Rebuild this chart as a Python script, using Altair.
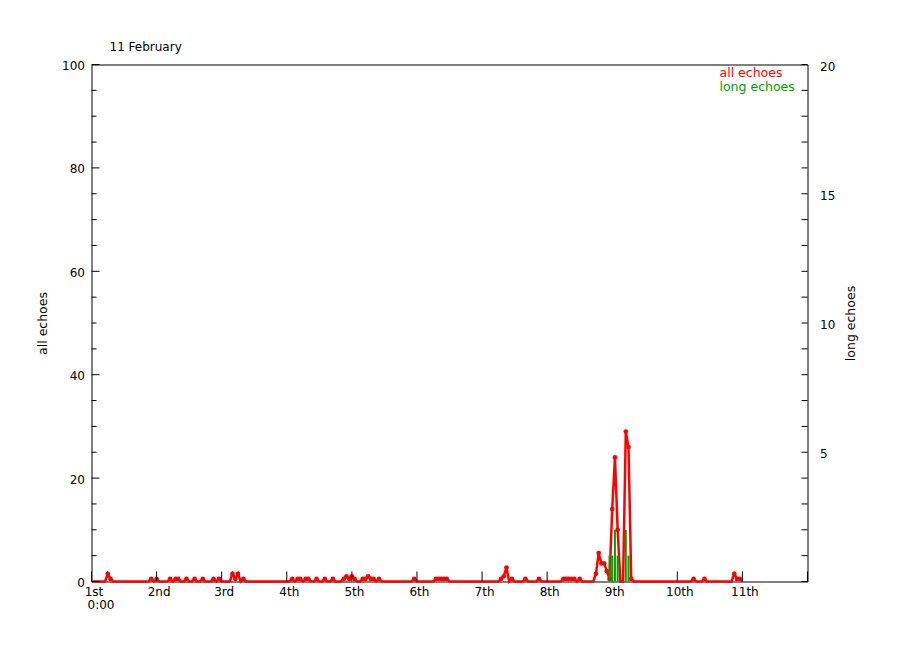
import altair as alt
import pandas as pd

# ---------------- data ----------------
DAY_LABELS = ["1st", "2nd", "3rd", "4th", "5th", "6th", "7th", "8th", "9th", "10th", "11th"]
TICK_DAYS = list(range(0, 12))
FIRST_SUBLABEL = "0:00"
TITLE = "11 February"
LAST_HOUR = 240

# hourly "all echoes" values that are not zero (hour counted from 1st 0:00)
EVENT_HOURS = [6, 7, 22, 24, 29, 31, 32, 35, 38, 41, 45, 47, 52, 53, 54, 56,
               74, 76, 77, 79, 80, 83, 86, 89,
               93, 94, 95, 96, 97, 100, 101, 102, 103, 104, 106,
               119, 127, 128, 129, 130, 131,
               151, 152, 153, 155, 160, 165,
               174, 175, 176, 177, 178, 180,
               186, 187, 188, 189, 190, 191, 192, 193, 194, 197, 198, 199,
               222, 226, 237, 238, 239]
EVENT_VALUES = [1.5, 0.5, 0.5, 0.5, 0.5, 0.5, 0.5, 0.5, 0.5, 0.5, 0.5, 0.5, 1.5, 0.5, 1.5, 0.5,
                0.5, 0.5, 0.5, 0.5, 0.5, 0.5, 0.5, 0.5,
                0.5, 1.0, 0.5, 1.0, 0.5, 0.5, 0.5, 1.0, 0.5, 0.5, 0.5,
                0.5, 0.5, 0.5, 0.5, 0.5, 0.5,
                0.5, 1.0, 2.7, 0.5, 0.5, 0.5,
                0.5, 0.5, 0.5, 0.5, 0.5, 0.5,
                1.5, 5.5, 3.5, 3.5, 2.0, 0.5, 14.0, 24.0, 10.0, 29.0, 26.0, 0.5,
                0.5, 0.5, 1.5, 0.5, 0.5]

# "long echoes" (right axis)
LONG_HOURS = [191, 192, 193, 194, 197, 198]
LONG_VALUES = [1, 1, 2, 1, 2, 1]

LEFT_MAJOR = [0, 20, 40, 60, 80, 100]
LEFT_MINOR = [5, 10, 15, 25, 30, 35, 45, 50, 55, 65, 70, 75, 85, 90, 95]
RIGHT_TICKS = list(range(0, 21))
RIGHT_LABELS = [5, 10, 15, 20]

LEGEND_TEXT = ["all echoes", "long echoes"]

# ---------------- tables ----------------
hours = list(range(0, LAST_HOUR + 1))
vals = [0.0] * len(hours)
for h, v in zip(EVENT_HOURS, EVENT_VALUES):
    vals[h] = v
all_df = pd.DataFrame({"day": [h / 24 for h in hours], "all": vals})
pts_df = all_df[all_df["all"] > 0]
long_df = pd.DataFrame({"day": [h / 24 for h in LONG_HOURS], "long": LONG_VALUES})
xt_df = pd.DataFrame({"d": TICK_DAYS})
lmaj_df = pd.DataFrame({"all": LEFT_MAJOR})
lmin_df = pd.DataFrame({"all": LEFT_MINOR})
rt_df = pd.DataFrame({"long": RIGHT_TICKS})

W, H = 716, 517
RED = "#ff0000"
GREEN = "#00a000"
FONT = "DejaVu Sans"

xscale = alt.Scale(domain=[0, 11], nice=False, zero=False)
lscale = alt.Scale(domain=[0, 100], nice=False)
rscale = alt.Scale(domain=[0, 20], nice=False)

label_arr = "[" + ",".join("'%s'" % s for s in DAY_LABELS + [""]) + "]"

x_axis = alt.Axis(values=TICK_DAYS, labelExpr=label_arr + "[datum.value]", title=None,
                  ticks=False, domain=False, grid=False, labelFont=FONT, labelFontSize=12,
                  labelColor="black", labelPadding=5, labelOffset=2, labelFlush=False,
                  labelOverlap=False)
left_axis = alt.Axis(values=LEFT_MAJOR, title="all echoes", ticks=False, domain=False,
                     grid=False, labelFont=FONT, labelFontSize=12, labelColor="black",
                     labelPadding=7, labelOffset=1, labelFlush=False, labelOverlap=False,
                     titleFont=FONT, titleFontSize=12.5,
                     titleFontWeight="normal", titleColor="black", titlePadding=12)
right_axis = alt.Axis(orient="right", values=RIGHT_LABELS, title="long echoes", ticks=False,
                      domain=False, grid=False, labelFont=FONT, labelFontSize=12,
                      labelColor="black", labelPadding=12, labelOffset=1.5, labelAlign="left",
                      labelFlush=False, labelOverlap=False,
                      titleFont=FONT, titleFontSize=12.5, titleFontWeight="normal",
                      titleColor="black", titlePadding=23, titleAngle=270)

red_line = alt.Chart(all_df).mark_line(color=RED, strokeWidth=2.5).encode(
    x=alt.X("day:Q", scale=xscale, axis=x_axis),
    y=alt.Y("all:Q", scale=lscale, axis=left_axis),
)
red_pts = alt.Chart(pts_df).mark_circle(color=RED, size=22, opacity=1).encode(
    x=alt.X("day:Q", scale=xscale, axis=x_axis),
    y=alt.Y("all:Q", scale=lscale, axis=left_axis),
)
lmaj = alt.Chart(lmaj_df).mark_rule(color="black", strokeWidth=1).encode(
    y=alt.Y("all:Q", scale=lscale, axis=left_axis), x=alt.value(0), x2=alt.value(8))
lmin = alt.Chart(lmin_df).mark_rule(color="black", strokeWidth=1).encode(
    y=alt.Y("all:Q", scale=lscale, axis=left_axis), x=alt.value(0), x2=alt.value(5))
xticks = alt.Chart(xt_df).mark_rule(color="black", strokeWidth=1).encode(
    x=alt.X("d:Q", scale=xscale, axis=x_axis), y=alt.value(H), y2=alt.value(H - 10))
sub = alt.Chart(pd.DataFrame({"d": [0], "s": [FIRST_SUBLABEL]})).mark_text(
    font=FONT, fontSize=12, color="black", align="left", baseline="middle", dx=-4
).encode(x=alt.X("d:Q", scale=xscale, axis=x_axis), y=alt.value(H + 23), text="s:N")
title = alt.Chart(pd.DataFrame({"s": [TITLE]})).mark_text(
    font=FONT, fontSize=12, color="black", align="left", baseline="middle"
).encode(x=alt.value(18), y=alt.value(-18), text="s:N")
leg_all = alt.Chart(pd.DataFrame({"s": [LEGEND_TEXT[0]]})).mark_text(
    font=FONT, fontSize=12.5, color=RED, align="left", baseline="middle"
).encode(x=alt.value(628), y=alt.value(8), text="s:N")
leg_long = alt.Chart(pd.DataFrame({"s": [LEGEND_TEXT[1]]})).mark_text(
    font=FONT, fontSize=12.5, color=GREEN, align="left", baseline="middle"
).encode(x=alt.value(628), y=alt.value(22), text="s:N")

left = alt.layer(red_line, red_pts, lmaj, lmin, xticks, sub, title, leg_all, leg_long)

green = alt.Chart(long_df).mark_rule(color=GREEN, strokeWidth=2).encode(
    x=alt.X("day:Q", scale=xscale, axis=x_axis),
    y=alt.Y("long:Q", scale=rscale, axis=right_axis),
    y2=alt.datum(0),
)
rticks = alt.Chart(rt_df).mark_rule(color="black", strokeWidth=1).encode(
    y=alt.Y("long:Q", scale=rscale, axis=right_axis), x=alt.value(W - 6), x2=alt.value(W))

right = alt.layer(green, rticks)

chart = alt.layer(left, right).resolve_scale(y="independent").properties(
    width=W, height=H, autosize="none", background="white",
    padding={"left": 83.5, "top": 56.5, "right": 84, "bottom": 60},
).configure_view(stroke="black", strokeWidth=1)

chart.save("out.html", embed_options={"renderer": "svg", "actions": False})
